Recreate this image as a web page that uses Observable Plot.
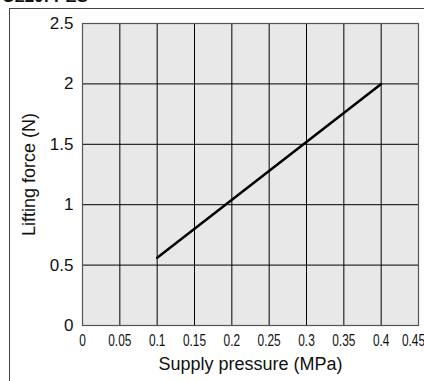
<!DOCTYPE html>
<html>
<head>
<meta charset="utf-8">
<script src="https://cdn.jsdelivr.net/npm/d3@7"></script>
<script src="https://cdn.jsdelivr.net/npm/@observablehq/plot@0.6"></script>
<style>
  html, body { margin: 0; padding: 0; background: #fff; overflow: hidden; }
  body { width: 424px; height: 381px; position: relative; font-family: Arial, "Liberation Sans", sans-serif; }
  #title { position: absolute; left: 2px; top: -13px; font-weight: bold; font-size: 17px; color: #111; white-space: nowrap; }
  #box { position: absolute; left: 9px; top: 8px; width: 600px; height: 600px; border-left: 1px solid #444; border-top: 1px solid #444; }
  #chart { position: absolute; left: 0; top: 0; }
</style>
</head>
<body>
<div id="title">CL20: PES</div>
<div id="box"></div>
<div id="chart"></div>
<script>
const pressure = [0.1, 0.4];
const force = [0.56, 2.0];
const xTicks = [0, 0.05, 0.1, 0.15, 0.2, 0.25, 0.3, 0.35, 0.4, 0.45];
const xTickLabels = ["0", "0.05", "0.1", "0.15", "0.2", "0.25", "0.3", "0.35", "0.4", "0.45"];
const yTicks = [0, 0.5, 1, 1.5, 2, 2.5];
const yTickLabels = ["0", "0.5", "1", "1.5", "2", "2.5"];
const xLabel = "Supply pressure (MPa)";
const yLabel = "Lifting force (N)";

const data = pressure.map((p, i) => ({p, f: force[i]}));

const chart = Plot.plot({
  width: 424,
  height: 381,
  marginLeft: 82,
  marginRight: 6,
  marginTop: 23,
  marginBottom: 56,
  style: {background: "transparent", color: "#111", fontFamily: "Arial, 'Liberation Sans', sans-serif"},
  x: {domain: [0, 0.45], ticks: xTicks},
  y: {domain: [0, 2.5], ticks: yTicks},
  marks: [
    Plot.frame({fill: "#e8e8e8", stroke: null}),
    Plot.gridX(xTicks, {stroke: "#000", strokeOpacity: 1, strokeWidth: 1}),
    Plot.gridY(yTicks, {stroke: "#000", strokeOpacity: 1, strokeWidth: 1}),
    Plot.frame({stroke: "#555", strokeWidth: 1.2}),
    Plot.axisX(xTicks, {
      tickSize: 0, tickPadding: 8,
      tickFormat: (d, i) => xTickLabels[i],
      label: xLabel, labelAnchor: "center", labelArrow: "none", labelOffset: 44
    }),
    Plot.axisY(yTicks, {
      tickSize: 0, tickPadding: 9,
      tickFormat: (d, i) => yTickLabels[i],
      label: yLabel, labelAnchor: "center", labelArrow: "none", labelOffset: 60
    }),
    Plot.line(data, {x: "p", y: "f", stroke: "#000", strokeWidth: 2.5})
  ]
});
document.getElementById("chart").appendChild(chart);

// font sizing after render
chart.querySelectorAll("text").forEach(t => {
  const s = t.textContent;
  const g = t.closest("g[aria-label]");
  const aria = g ? g.getAttribute("aria-label") : "";
  let size = null, condense = false;
  if (s === xLabel || s === yLabel) size = 18;
  else if (aria.startsWith("x-axis")) { size = 17; condense = true; }
  else if (aria.startsWith("y-axis")) size = 17;
  if (size) {
    t.style.setProperty("font-size", size + "px", "important");
    t.style.setProperty("fill", "#111");
  }
  if (condense) {
    const shift = s === xTickLabels[xTickLabels.length - 1] ? -5 : 0;
    const tr = t.getAttribute("transform");
    if (tr) {
      t.setAttribute("transform", `translate(${shift},0) ` + tr + " scale(0.7,1)");
    } else {
      const x = +t.getAttribute("x") || 0, y = +t.getAttribute("y") || 0;
      t.setAttribute("x", 0); t.setAttribute("y", 0);
      t.setAttribute("transform", `translate(${x + shift},${y}) scale(0.7,1)`);
    }
  }
});
</script>
</body>
</html>
